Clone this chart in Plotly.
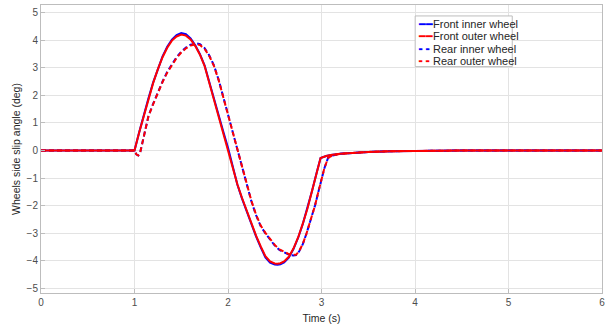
import plotly.graph_objects as go

# ---- data ----
t_front = [0, 1.00, 1.05, 1.10, 1.15, 1.20, 1.25, 1.30, 1.35, 1.40, 1.45, 1.50, 1.55, 1.60, 1.65,
           1.70, 1.75, 1.80, 1.85, 1.90, 1.95, 2.00, 2.05, 2.10, 2.15, 2.20, 2.25, 2.30, 2.35,
           2.40, 2.45, 2.50, 2.53, 2.56, 2.60, 2.65, 2.70, 2.75, 2.80, 2.85, 2.90, 2.95, 2.99,
           3.05, 3.10, 3.20, 3.30, 3.50, 3.75, 4.00, 4.50, 6.00]
front_outer = [0, 0, 0.65, 1.28, 1.88, 2.45, 2.95, 3.38, 3.72, 3.98, 4.13, 4.20, 4.16, 4.02, 3.78,
               3.47, 3.06, 2.45, 1.85, 1.25, 0.68, 0.10, -0.60, -1.22, -1.72, -2.20, -2.65, -3.08, -3.47,
               -3.83, -4.02, -4.09, -4.10, -4.08, -4.02, -3.85, -3.55, -3.15, -2.65, -2.10, -1.45, -0.78, -0.27,
               -0.20, -0.16, -0.12, -0.09, -0.05, -0.025, -0.01, 0, 0]
front_inner = [0, 0, 0.66, 1.30, 1.90, 2.47, 2.98, 3.41, 3.76, 4.02, 4.18, 4.25, 4.21, 4.06, 3.81,
               3.49, 3.08, 2.46, 1.86, 1.25, 0.68, 0.10, -0.61, -1.23, -1.74, -2.22, -2.68, -3.11, -3.51,
               -3.87, -4.06, -4.13, -4.14, -4.12, -4.05, -3.88, -3.57, -3.16, -2.66, -2.10, -1.45, -0.78, -0.27,
               -0.20, -0.16, -0.12, -0.09, -0.05, -0.025, -0.01, 0, 0]

t_rear = [0, 1.00, 1.02, 1.04, 1.06, 1.08, 1.10, 1.13, 1.15, 1.20, 1.25, 1.30, 1.35, 1.40, 1.45,
          1.50, 1.55, 1.60, 1.665, 1.70, 1.75, 1.80, 1.85, 1.90, 1.95, 2.00, 2.05, 2.10, 2.15,
          2.20, 2.25, 2.30, 2.35, 2.40, 2.45, 2.50, 2.55, 2.60, 2.65, 2.70, 2.73, 2.76, 2.80,
          2.84, 2.88, 2.93, 2.97, 3.00, 3.03, 3.07, 3.12, 3.20, 3.30, 3.50, 3.75, 4.00, 4.50, 6.00]
rear_outer = [0, 0, -0.14, -0.18, -0.08, 0.20, 0.55, 1.00, 1.25, 1.68, 2.10, 2.48, 2.82, 3.10, 3.35,
              3.55, 3.70, 3.80, 3.85, 3.82, 3.68, 3.42, 3.06, 2.55, 1.93, 1.28, 0.65, 0.05, -0.60,
              -1.22, -1.82, -2.32, -2.72, -2.98, -3.20, -3.42, -3.58, -3.68, -3.75, -3.78, -3.77, -3.65, -3.38,
              -3.00, -2.55, -2.00, -1.45, -1.05, -0.65, -0.27, -0.18, -0.12, -0.09, -0.05, -0.025, -0.01, 0, 0]
rear_inner = [0, 0, -0.14, -0.18, -0.08, 0.20, 0.56, 1.01, 1.26, 1.70, 2.12, 2.50, 2.85, 3.13, 3.38,
              3.58, 3.73, 3.83, 3.88, 3.85, 3.71, 3.44, 3.08, 2.56, 1.94, 1.28, 0.65, 0.05, -0.61,
              -1.23, -1.84, -2.34, -2.74, -3.00, -3.22, -3.44, -3.60, -3.70, -3.77, -3.80, -3.79, -3.66, -3.39,
              -3.00, -2.55, -2.00, -1.45, -1.05, -0.65, -0.27, -0.18, -0.12, -0.09, -0.05, -0.025, -0.01, 0, 0]

names = ["Front inner wheel", "Front outer wheel", "Rear inner wheel", "Rear outer wheel"]
colors = ["#0000ff", "#ff0000", "#0000ff", "#ff0000"]
x_ticks = [0, 1, 2, 3, 4, 5, 6]
y_ticks = [-5, -4, -3, -2, -1, 0, 1, 2, 3, 4, 5]

DASH = "5px,3px"
LW = 2
FONT = "Liberation Sans, Arial"

fig = go.Figure()
fig.add_trace(go.Scatter(x=t_front, y=front_inner, name=names[0], mode="lines",
                         line=dict(color=colors[0], width=LW)))
fig.add_trace(go.Scatter(x=t_rear, y=rear_inner, name=names[2], mode="lines",
                         line=dict(color=colors[2], width=LW, dash=DASH)))
fig.add_trace(go.Scatter(x=t_front, y=front_outer, name=names[1], mode="lines",
                         line=dict(color=colors[1], width=LW)))
fig.add_trace(go.Scatter(x=t_rear, y=rear_outer, name=names[3], mode="lines",
                         line=dict(color=colors[3], width=LW, dash=DASH)))

# ---- compact MATLAB-style legend box (paper coordinates) ----
leg_x0, leg_x1, leg_y1, leg_y0 = 0.667, 0.840, 0.962, 0.786
fig.add_shape(type="rect", xref="paper", yref="paper",
              x0=leg_x0, x1=leg_x1, y0=leg_y0, y1=leg_y1,
              fillcolor="white", line=dict(color="#bdbdbd", width=1), layer="above")
glyphs = ["━━", "━━", "╸╸", "╸╸"]
row_top, row_step = 0.935, 0.0435
for i, (n, c, g) in enumerate(zip(names, colors, glyphs)):
    fig.add_annotation(
        xref="paper", yref="paper", x=leg_x0 + 0.002, y=row_top - i * row_step,
        xanchor="left", yanchor="middle", showarrow=False,
        text=f"<span style='color:{c}'>{g}</span>{n}",
        font=dict(family=FONT, size=11, color="#262626"),
    )

axis_common = dict(showgrid=True, gridcolor="#e3e3e3", gridwidth=1, zeroline=False,
                   showline=True, linecolor="#bdbdbd", linewidth=1, mirror=True,
                   ticks="inside", ticklen=4, tickcolor="#bdbdbd",
                   tickfont=dict(family=FONT, size=10, color="#4d4d4d"))

fig.update_layout(
    width=610, height=329,
    margin=dict(l=41, r=8, t=5, b=36),
    paper_bgcolor="white", plot_bgcolor="white",
    showlegend=False,
    xaxis=dict(range=[0, 6], tickvals=x_ticks,
               title=dict(text="Time (s)", standoff=7,
                          font=dict(family=FONT, size=10.5, color="#262626")),
               **axis_common),
    yaxis=dict(range=[-5.16, 5.27], tickvals=y_ticks,
               title=dict(text="Wheels side slip angle (deg)", standoff=3,
                          font=dict(family=FONT, size=10.5, color="#262626")),
               **axis_common),
)

fig.write_html("out.html")
